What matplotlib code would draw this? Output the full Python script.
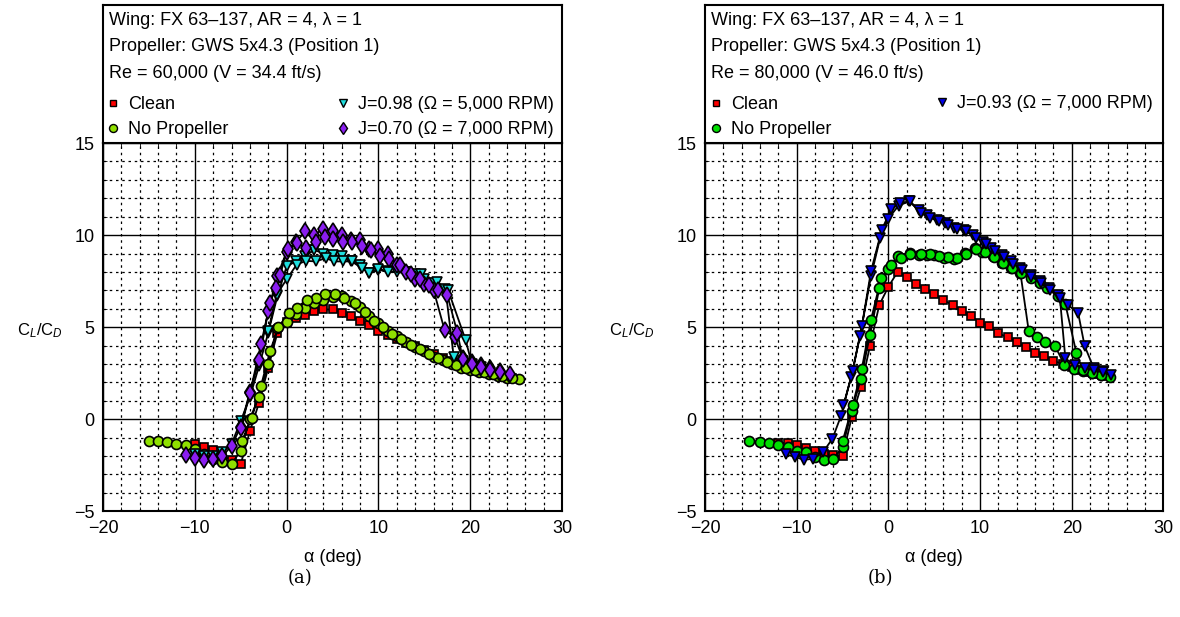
import numpy as np
import matplotlib.pyplot as plt
from matplotlib.lines import Line2D
from matplotlib.ticker import MultipleLocator

plt.rcParams['font.family'] = ['Liberation Sans', 'DejaVu Sans']
plt.rcParams['mathtext.fontset'] = 'custom'
plt.rcParams['mathtext.rm'] = 'Liberation Sans'
plt.rcParams['mathtext.it'] = 'Liberation Sans:italic'
plt.rcParams['font.size'] = 13

# ---- Re = 60,000 (panel a) ----
clean60_a = [-10, -9, -8, -7, -6, -5, -4, -3, -2, -1, 0, 1, 2, 3, 4, 5, 6, 7, 8, 9, 10, 11, 12,
             13, 14, 15, 16, 17, 18, 19, 20, 21, 22, 23, 24, 24.6]
clean60_r = [-1.32, -1.5, -1.66, -2.0, -2.2, -2.44, -0.65, 0.9, 2.8, 4.7, 5.27, 5.5, 5.64, 5.87,
             5.96, 5.96, 5.78, 5.6, 5.33, 5.1, 4.79, 4.55, 4.34, 4.15, 3.95, 3.75, 3.55, 3.35,
             3.15, 3.0, 2.85, 2.7, 2.58, 2.45, 2.35, 2.26]

noprop60_a_up = [-15, -14, -13, -12, -11, -10, -9, -8, -7, -6, -5, -4, -3, -2, -1, 0, 1, 2, 3, 4,
                 5, 6, 7, 8, 9, 10, 11, 12, 13, 14, 15, 16, 17, 18, 19, 20, 21, 22, 23, 24, 25.3]
noprop60_r_up = [-1.17, -1.2, -1.25, -1.34, -1.4, -1.6, -1.87, -2.16, -2.34, -2.44, -1.7, 0.03,
                 1.23, 3.0, 4.97, 5.3, 5.7, 6.05, 6.3, 6.5, 6.65, 6.7, 6.4, 6.1, 5.6, 5.2, 4.8,
                 4.5, 4.2, 3.9, 3.7, 3.4, 3.2, 3.0, 2.8, 2.7, 2.55, 2.45, 2.35, 2.25, 2.2]
noprop60_a_dn = [24.5, 23.5, 22.5, 21.5, 20.5, 19.5, 18.5, 17.5, 16.5, 15.5, 14.5, 13.5, 12.5,
                 11.5, 10.5, 9.5, 8.5, 7.5, 6.3, 5.3, 4.2, 3.2, 2.2, 1.1, 0.25, -0.9, -1.8,
                 -2.8, -3.8, -4.9]
noprop60_r_dn = [2.25, 2.35, 2.45, 2.55, 2.7, 2.8, 2.95, 3.1, 3.3, 3.55, 3.8, 4.05, 4.35, 4.65,
                 5.0, 5.35, 5.85, 6.3, 6.6, 6.8, 6.8, 6.6, 6.5, 6.05, 5.78, 5.0, 3.7, 1.8,
                 0.05, -1.2]

j098_a_up = [-10, -9, -8, -7, -6, -5, -4, -3, -2, -1, 0, 1, 2, 3, 4, 5, 6, 7, 8, 9, 10, 11, 12,
             13, 14, 15, 16, 17.3, 18.2, 19.2, 20.2, 21.2]
j098_r_up = [-1.9, -2.0, -2.0, -1.8, -1.35, -0.1, 1.2, 2.9, 4.7, 6.7, 8.3, 8.57, 8.84, 9.2, 9.0,
             8.93, 8.84, 8.57, 8.4, 7.93, 8.1, 8.05, 8.0, 8.0, 7.9, 7.6, 7.4, 7.07, 3.4, 3.15,
             3.0, 2.85]
j098_a_dn = [20.2, 19.5, 17.6, 16.4, 14.6, 13.0, 11.0, 10.0, 9.0, 8.2, 7.1, 6.1, 5.2, 4.25, 3.2,
             2.1, 1.1, 0.0, -1.1, -2.0]
j098_r_dn = [2.95, 4.3, 7.0, 7.45, 7.9, 8.0, 8.0, 8.15, 7.95, 8.2, 8.57, 8.57, 8.57, 8.75, 8.57,
             8.6, 8.4, 7.6, 6.75, 4.8]

j070_a_up = [-11, -10, -9, -8, -7, -6, -5, -4, -3, -2, -1, 0, 1, 2, 3, 4, 5, 6, 7, 8, 9, 10, 11,
             12, 13, 14, 15, 16, 17.2, 18.3, 19.2, 20.2, 21.2, 22.2, 23.2, 24.3]
j070_r_up = [-1.95, -2.08, -2.2, -2.15, -2.0, -1.45, -0.4, 1.5, 3.2, 5.9, 7.8, 9.1, 9.6, 10.2,
             10.0, 10.35, 10.2, 10.0, 9.75, 9.76, 9.25, 9.25, 9.0, 8.35, 7.97, 7.6, 7.34, 7.03,
             4.85, 4.46, 3.3, 3.1, 2.95, 2.8, 2.6, 2.48]
j070_a_dn = [23.2, 22.2, 21.2, 20.2, 19.2, 18.6, 17.5, 16.5, 15.5, 14.5, 13.5, 12.3, 11.2, 10.2,
             9.2, 8.2, 7.1, 6.1, 5.0, 4.2, 3.2, 2.1, 1.1, 0.1, -0.7, -1.2, -1.8, -2.8, -4.0, -5.0]
j070_r_dn = [2.55, 2.7, 2.85, 3.0, 3.25, 4.7, 6.76, 7.0, 7.3, 7.6, 7.9, 8.4, 8.7, 8.85, 9.2, 9.4,
             9.6, 9.6, 9.8, 9.9, 9.6, 9.3, 9.57, 9.27, 7.84, 7.15, 6.3, 4.06, 1.4, -0.5]

# ---- Re = 80,000 (panel b) ----
clean80_a = [-12, -11, -10, -9, -8, -7, -6, -5, -4, -3, -2, -1, 0, 1, 2, 3, 4, 5, 6, 7, 8, 9,
             10, 11, 12, 13, 14, 15, 16, 17, 18, 19, 20, 21, 22, 23, 24]
clean80_r = [-1.27, -1.3, -1.4, -1.54, -1.72, -1.9, -1.95, -2.0, 0.1, 1.75, 4.0, 6.2, 7.2, 8.0,
             7.75, 7.35, 7.07, 6.8, 6.47, 6.2, 5.9, 5.6, 5.25, 5.07, 4.67, 4.44, 4.17, 3.9,
             3.62, 3.44, 3.17, 3.0, 2.85, 2.7, 2.55, 2.45, 2.35]

noprop80_a_up = [-15.2, -14, -13, -12, -11, -10, -9, -8, -7, -6, -5, -4, -3, -2, -1, 0, 1, 2.3,
                 3.3, 4.2, 5, 6.1, 7.2, 8.4, 9.45, 10.2, 11.4, 12.4, 13.4, 14.4, 15.3, 16.2,
                 17.1, 18.2, 19.2, 20.2, 21.2, 22.2, 23.2, 24.2]
noprop80_r_up = [-1.2, -1.25, -1.3, -1.4, -1.5, -1.7, -1.8, -2.05, -2.2, -2.15, -1.5, 0.45, 2.2,
                 4.6, 7.1, 8.15, 8.87, 9.05, 8.9, 8.9, 8.9, 8.77, 8.7, 9.05, 9.3, 9.1, 8.87,
                 8.5, 8.24, 7.93, 4.8, 4.45, 4.2, 3.95, 2.95, 2.75, 2.6, 2.5, 2.4, 2.3]
noprop80_a_dn = [23.2, 22.2, 21.2, 20.5, 19.3, 18.5, 17.3, 16.5, 15.5, 14.5, 13.5, 12.5, 11.5,
                 10.5, 9.5, 8.5, 7.5, 6.5, 5.5, 4.5, 3.5, 2.4, 1.4, 0.3, -0.8, -1.9, -2.9,
                 -3.9, -5.0]
noprop80_r_dn = [2.4, 2.5, 2.65, 3.6, 6.25, 6.7, 7.14, 7.4, 7.65, 7.95, 8.2, 8.5, 8.8, 9.1,
                 9.25, 9.0, 8.75, 8.8, 8.85, 8.95, 8.95, 9.0, 8.77, 8.37, 7.65, 5.4, 2.75, 0.76,
                 -1.2]

j093_a_up = [-11.2, -10.2, -9.2, -8.2, -7.15, -6.1, -5.16, -4.07, -3.1, -1.9, -0.9, 0, 1.1,
             2.26, 3.3, 4.25, 5.3, 6.2, 7.2, 8.2, 9.2, 10.3, 11.2, 12.4, 13.4, 14.4, 15.5, 16.5,
             17.5, 18.5, 19.6, 20.7, 21.4, 22.4, 23.4, 24.3]
j093_r_up = [-1.9, -2.05, -2.2, -2.15, -1.8, -1.05, 0.2, 2.3, 4.5, 7.77, 9.85, 10.9, 11.6,
             11.83, 11.37, 11.1, 10.83, 10.65, 10.4, 10.3, 10.0, 9.65, 9.3, 8.93, 8.6, 8.2,
             7.84, 7.48, 7.1, 6.75, 6.2, 5.76, 3.98, 2.77, 2.6, 2.4]
j093_a_dn = [23.4, 22.4, 21.4, 20.3, 19.3, 18.7, 17.6, 16.6, 15.6, 14.6, 13.6, 12.6, 11.6, 10.6,
             9.6, 8.5, 7.5, 6.5, 5.5, 4.5, 3.5, 2.4, 1.27, 0.3, -0.72, -1.9, -2.9, -3.9, -4.9]
j093_r_dn = [2.55, 2.65, 2.8, 2.95, 3.3, 6.6, 7.0, 7.4, 7.75, 8.1, 8.45, 8.8, 9.15, 9.5, 9.85,
             10.2, 10.35, 10.55, 10.75, 10.95, 11.2, 11.83, 11.74, 11.4, 10.3, 8.04, 5.06, 2.6,
             0.76]

header_a = ['Wing: FX 63\u2013137, AR = 4, \u03bb = 1',
            'Propeller: GWS 5x4.3 (Position 1)',
            'Re = 60,000 (V = 34.4 ft/s)']
header_b = ['Wing: FX 63\u2013137, AR = 4, \u03bb = 1',
            'Propeller: GWS 5x4.3 (Position 1)',
            'Re = 80,000 (V = 46.0 ft/s)']

RED = '#ff0000'
LIME = '#8fe000'
GREEN = '#00e000'
CYAN = '#20dede'
PURPLE = '#8a1ef0'
BLUE = '#0000e8'

styles = {
    'clean': dict(marker='s', ms=5.8),
    'noprop': dict(marker='o', ms=7.2),
    'tri': dict(marker='v', ms=7.8),
    'dia': dict(marker='d', ms=7.8),
}


def series(ax, a, r, color, kind):
    ax.plot(a, r, color='k', lw=1.3, mfc=color, mec='k', mew=1.2, zorder=3, **styles[kind])


def handle(color, kind, label):
    return Line2D([], [], ls='none', mfc=color, mec='k', mew=1.0, label=label,
                  marker=styles[kind]['marker'], ms=styles[kind]['ms'] * 0.8)


def setup(ax, hax, lines):
    ax.set_xlim(-20, 30)
    ax.set_ylim(-5, 15)
    ax.xaxis.set_major_locator(MultipleLocator(10))
    ax.xaxis.set_minor_locator(MultipleLocator(2))
    ax.yaxis.set_major_locator(MultipleLocator(5))
    ax.yaxis.set_minor_locator(MultipleLocator(1))
    ax.grid(which='major', color='k', lw=1.0)
    ax.grid(which='minor', color='k', lw=0.9, ls=(0, (2, 3)))
    ax.tick_params(which='both', direction='in', top=True, right=True, labelsize=13)
    ax.tick_params(which='major', length=0, pad=6)
    ax.tick_params(which='minor', length=3)
    for s in ax.spines.values():
        s.set_linewidth(1.5)
    ax.set_xlabel('\u03b1 (deg)', fontsize=13, labelpad=9)
    ax.set_ylabel(r'C$_{\mathit{L}}$/C$_{\mathit{D}}$', fontsize=12, rotation=0,
                  ha='right', va='center')
    ax.set_axisbelow(True)

    hax.set_xticks([])
    hax.set_yticks([])
    for s in hax.spines.values():
        s.set_linewidth(1.5)
    for i, t in enumerate(lines):
        hax.text(0.0137, 0.891 - i * 0.192, t, transform=hax.transAxes,
                 ha='left', va='center', fontsize=13)


fig = plt.figure(figsize=(11.8, 6.17), dpi=100)

# panel a
ax1 = fig.add_axes([0.0873, 0.1713, 0.389, 0.5969])
hx1 = fig.add_axes([0.0873, 0.7682, 0.389, 0.2237])
series(ax1, clean60_a, clean60_r, RED, 'clean')
series(ax1, noprop60_a_up + noprop60_a_dn, noprop60_r_up + noprop60_r_dn, LIME, 'noprop')
series(ax1, j098_a_up + j098_a_dn, j098_r_up + j098_r_dn, CYAN, 'tri')
series(ax1, j070_a_up + j070_a_dn, j070_r_up + j070_r_dn, PURPLE, 'dia')
setup(ax1, hx1, header_a)
ax1.yaxis.set_label_coords(-0.088, 0.49)

leg_kw = dict(frameon=False, fontsize=13, handlelength=0.75, handletextpad=0.45,
              labelspacing=0.45, borderpad=0, borderaxespad=0, loc='center left')
l1 = hx1.legend(handles=[handle(RED, 'clean', 'Clean'), handle(LIME, 'noprop', 'No Propeller')],
                bbox_to_anchor=(0.008, 0.188), **leg_kw)
hx1.add_artist(l1)
hx1.legend(handles=[handle(CYAN, 'tri', 'J=0.98 (\u03a9 = 5,000 RPM)'),
                    handle(PURPLE, 'dia', 'J=0.70 (\u03a9 = 7,000 RPM)')],
           bbox_to_anchor=(0.509, 0.188), **leg_kw)

# panel b
ax2 = fig.add_axes([0.5975, 0.1713, 0.3885, 0.5969])
hx2 = fig.add_axes([0.5975, 0.7682, 0.3885, 0.2237])
series(ax2, clean80_a, clean80_r, RED, 'clean')
series(ax2, noprop80_a_up + noprop80_a_dn, noprop80_r_up + noprop80_r_dn, GREEN, 'noprop')
series(ax2, j093_a_up + j093_a_dn, j093_r_up + j093_r_dn, BLUE, 'tri')
setup(ax2, hx2, header_b)
ax2.yaxis.set_label_coords(-0.11, 0.49)

l2 = hx2.legend(handles=[handle(RED, 'clean', 'Clean'), handle(GREEN, 'noprop', 'No Propeller')],
                bbox_to_anchor=(0.009, 0.188), **leg_kw)
hx2.add_artist(l2)
hx2.legend(handles=[handle(BLUE, 'tri', 'J=0.93 (\u03a9 = 7,000 RPM)')],
           bbox_to_anchor=(0.503, 0.283), **leg_kw)

fig.text(300 / 1180, 1 - 578 / 617, '(a)', family='DejaVu Serif', fontsize=13,
         ha='center', va='center')
fig.text(880 / 1180, 1 - 578 / 617, '(b)', family='DejaVu Serif', fontsize=13,
         ha='center', va='center')

fig.savefig('out.png', dpi=100)
